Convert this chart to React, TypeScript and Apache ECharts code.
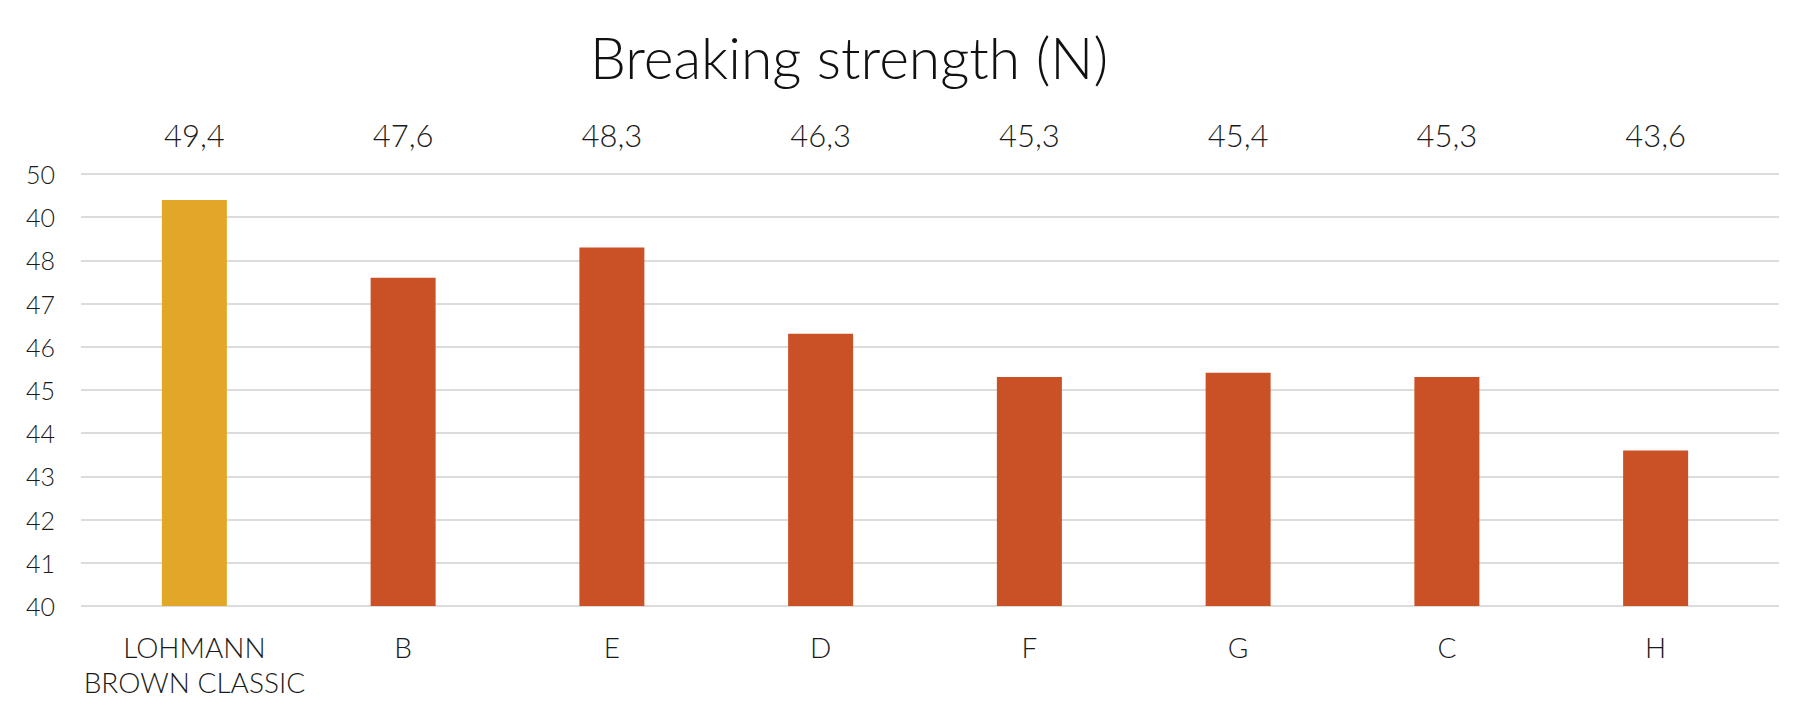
import React, { useEffect, useRef } from "react";
import * as echarts from "echarts";

const categories = ["LOHMANN\nBROWN CLASSIC", "B", "E", "D", "F", "G", "C", "H"];
const values = [49.4, 47.6, 48.3, 46.3, 45.3, 45.4, 45.3, 43.6];
// tick labels exactly as printed in the reference (the 49 line is printed "40")
const yTickLabels = ["40", "41", "42", "43", "44", "45", "46", "47", "48", "40", "50"];
const titleText = "Breaking strength (N)";

const GOLD = "#E2A628";
const RED = "#CA5025";
const FONT = "Lato";

export default function App() {
  const ref = useRef<HTMLDivElement>(null);
  useEffect(() => {
    document.body.style.margin = "0";
    const chart = echarts.init(ref.current!, null, { renderer: "svg" });
    const valueLabels = values.map((v) => v.toFixed(1).replace(".", ","));
    chart.setOption({
      animation: false,
      backgroundColor: "#ffffff",
      textStyle: { fontFamily: FONT },
      graphic: [
        {
          type: "text",
          x: 849,
          y: 57,
          style: {
            text: titleText,
            fontFamily: FONT,
            fontSize: 57,
            fontWeight: 300,
            fill: "#111111",
            textAlign: "center",
            textVerticalAlign: "middle",
          },
        },
      ],
      grid: [
        { left: 81, right: 15, top: 174, bottom: 110, containLabel: false },
        { left: 90, right: 34, top: 174, bottom: 110, containLabel: false },
      ],
      xAxis: [
        { gridIndex: 0, type: "value", min: 0, max: 1, show: false },
        {
          gridIndex: 1,
          type: "category",
          data: categories,
          position: "bottom",
          axisLine: { show: false },
          axisTick: { show: false },
          axisLabel: {
            margin: 23,
            fontFamily: FONT,
            fontSize: 28,
            fontWeight: 300,
            lineHeight: 35,
            color: "#1a1a1a",
            interval: 0,
          },
        },
        {
          gridIndex: 1,
          type: "category",
          data: valueLabels,
          position: "top",
          axisLine: { show: false },
          axisTick: { show: false },
          axisLabel: {
            margin: 24,
            fontFamily: FONT,
            fontSize: 31,
            fontWeight: 300,
            color: "#1a1a1a",
            interval: 0,
          },
        },
      ],
      yAxis: [
        {
          gridIndex: 0,
          type: "value",
          min: 40,
          max: 50,
          interval: 1,
          axisLine: { show: false },
          axisTick: { show: false },
          splitLine: { show: true, lineStyle: { color: "#D0D0D0", width: 1.5 } },
          axisLabel: {
            margin: 26,
            fontFamily: FONT,
            fontSize: 25,
            fontWeight: 300,
            color: "#1a1a1a",
            formatter: (v: number) => yTickLabels[Math.round(v - 40)],
          },
        },
        {
          gridIndex: 1,
          type: "value",
          min: 40,
          max: 50,
          interval: 1,
          show: false,
          splitLine: { show: false },
        },
      ],
      series: [
        {
          type: "bar",
          xAxisIndex: 1,
          yAxisIndex: 1,
          data: values,
          barWidth: 65,
          itemStyle: {
            color: (p: any) => (p.dataIndex === 0 ? GOLD : RED),
          },
        },
      ],
    });
    return () => chart.dispose();
  }, []);
  return <div ref={ref} style={{ width: 1794, height: 716 }} />;
}
